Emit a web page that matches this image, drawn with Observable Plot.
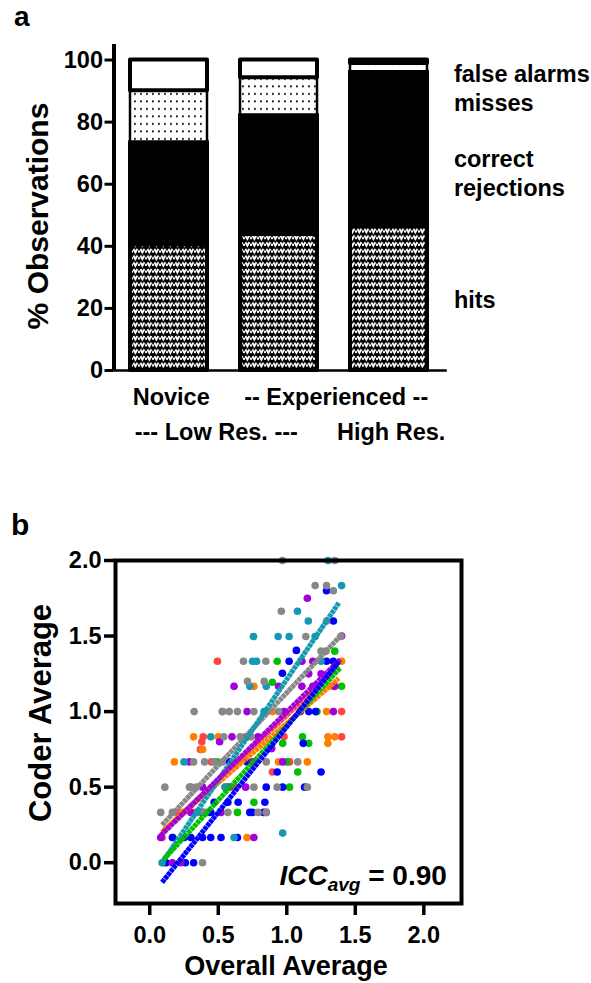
<!DOCTYPE html>
<html>
<head>
<meta charset="utf-8">
<script src="https://cdn.jsdelivr.net/npm/d3@7"></script>
<script src="https://cdn.jsdelivr.net/npm/@observablehq/plot@0.6"></script>
<style>
  body { margin: 0; background: #fff; }
  #root { position: relative; width: 591px; height: 983px; background: #fff; overflow: hidden;
          font-family: "Liberation Sans", Arial, sans-serif; font-weight: bold; color: #000; }
  .lbl { position: absolute; white-space: nowrap; line-height: 1; }
</style>
</head>
<body>
<div id="root">
  <svg width="0" height="0" style="position:absolute">
    <defs>
      <pattern id="pHits" patternUnits="userSpaceOnUse" width="7" height="6.7">
        <rect width="7" height="6.7" fill="#000"/>
        <path d="M0.4,1.0 L2.4,4.4 L4.4,1.0" fill="none" stroke="#fff" stroke-width="2"/>
        <rect x="5" y="2.5" width="2" height="2.2" fill="#fff"/>
      </pattern>
      <pattern id="pMiss" patternUnits="userSpaceOnUse" width="6" height="7.5">
        <rect width="6" height="7.5" fill="#fff"/>
        <rect x="2" y="3" width="1.8" height="1.8" fill="#000"/>
      </pattern>
    </defs>
  </svg>
  <div id="pa" style="position:absolute;left:0;top:0"></div>
  <div id="pb" style="position:absolute;left:0;top:470px"></div>
  <div class="lbl" style="left:14px;top:3px;font-size:28px">a</div>
  <div class="lbl" style="left:11px;top:510px;font-size:30px">b</div>
  <div class="lbl" style="left:38px;top:216px;font-size:30px;transform:translate(-50%,-50%) rotate(-90deg)">% Observations</div>
  <div class="lbl" style="left:40px;top:713px;font-size:31px;transform:translate(-50%,-50%) rotate(-90deg)">Coder Average</div>
  <div class="lbl" style="left:286px;top:966px;font-size:27px;transform:translate(-50%,-50%)">Overall Average</div>
</div>
<script>
// ---------- Panel a data ----------
const groups = ["Novice", "Experienced", "High Res."];
const hits = [40.5, 43.8, 46.5];
const correctRejections = [33.1, 38.5, 49.7];
const misses = [16.5, 12.0, 2.7];
const falseAlarms = [9.9, 5.7, 1.1];
const outcomeNames = ["hits", "correct rejections", "misses", "false alarms"];
const rightLabels = ["false alarms", "misses", "correct\nrejections", "hits"];
const xLabelsRow1 = ["Novice", "-- Experienced --"];
const xLabelsRow2 = ["--- Low Res. ---", "High Res."];
const yTicksA = [0, 20, 40, 60, 80, 100];

// ---------- Panel b data (Overall Average, Coder Average) ----------
const coderNames = ["C1", "C2", "C3", "C4", "C5", "C6", "C7"];
const coderColors = ["#ff4444", "#ff8000", "#00c000", "#0000ff", "#a000dc", "#1399b2", "#888888"];
const ptsC1 = [[0.494,1.333],[0.53,1.0],[0.39,0.833],[0.38,0.80],[0.37,0.75],[0.76,0.667],[0.895,0.60],[0.98,0.833],[1.02,0.667],[1.40,1.0],[1.40,0.833],[0.45,0.667],[0.62,0.5],[0.70,0.833],[0.85,1.0],[0.20,0.333],[0.09,0.167],[0.30,0.5]];
const ptsC2 = [[0.32,0.833],[0.385,0.75],[0.18,0.667],[0.65,0.667],[0.71,0.167],[0.76,1.167],[0.895,1.0],[1.29,1.0],[1.30,0.833],[1.35,0.833],[1.30,0.79],[0.94,0.667],[1.15,0.667],[1.40,1.333],[0.33,0.333],[0.55,0.5],[0.71,0.833],[0.24,0.333],[0.50,0.833],[1.33,1.167]];
const ptsC3 = [[0.93,1.333],[1.35,1.40],[0.895,1.194],[1.40,1.167],[1.115,0.833],[0.97,0.79],[1.16,0.79],[1.0,0.667],[1.08,0.60],[1.02,0.5],[0.76,0.40],[0.64,0.333],[0.49,0.667],[0.17,0.167],[0.25,0.167],[0.10,0.0],[0.56,0.5],[0.42,0.333],[1.22,1.0]];
const ptsC4 = [[1.29,1.80],[1.34,1.60],[1.07,1.405],[1.017,1.333],[1.29,1.333],[1.34,1.333],[0.968,1.254],[1.16,1.0],[1.21,1.0],[1.12,0.79],[0.93,0.60],[1.25,0.60],[0.85,0.5],[0.97,0.5],[1.13,0.5],[0.84,0.40],[0.47,0.40],[0.57,0.40],[0.645,0.40],[0.58,0.667],[0.71,0.667],[0.385,0.333],[0.73,0.333],[0.75,0.333],[0.83,0.333],[0.165,0.167],[0.25,0.167],[0.30,0.167],[0.385,0.167],[0.445,0.167],[0.52,0.167],[0.64,0.167],[0.12,0.0],[0.26,0.0],[0.32,0.0],[0.445,0.333]];
const ptsC5 = [[1.15,1.75],[1.40,1.50],[1.11,1.333],[1.19,1.333],[1.16,1.25],[1.25,1.25],[0.615,1.167],[0.94,1.167],[1.11,1.167],[1.19,1.167],[1.35,1.167],[0.71,1.0],[0.98,1.0],[1.34,1.0],[1.10,1.0],[0.60,0.833],[0.71,0.833],[0.79,0.833],[0.51,0.80],[0.89,0.755],[0.29,0.667],[0.75,0.667],[0.97,0.667],[0.385,0.5],[0.58,0.5],[0.70,0.5],[0.30,0.333],[0.52,0.333],[0.85,0.333],[0.08,0.167],[0.76,0.167],[0.165,0.0],[0.226,0.0]];
const ptsC6 = [[1.30,2.0],[1.40,1.834],[1.078,1.664],[1.157,1.60],[0.757,1.497],[0.937,1.497],[1.017,1.497],[1.207,1.497],[0.75,1.333],[0.78,1.333],[1.25,1.333],[0.73,1.167],[0.85,1.167],[0.834,1.0],[0.445,0.833],[0.25,0.667],[0.97,0.196],[0.615,0.167],[0.09,0.0],[0.55,0.5],[0.35,0.333]];
const ptsC7 = [[0.968,2.0],[1.35,2.0],[1.207,1.834],[1.29,1.834],[1.34,1.80],[0.96,1.664],[1.29,1.60],[1.139,1.497],[1.394,1.497],[1.25,1.40],[1.285,1.40],[0.684,1.333],[0.847,1.333],[0.713,1.2],[0.835,1.2],[0.324,1.0],[0.53,1.0],[0.58,1.0],[0.64,1.0],[0.76,1.0],[0.94,1.0],[0.54,0.833],[0.66,0.833],[0.74,0.833],[0.32,0.667],[0.40,0.667],[0.47,0.667],[0.53,0.667],[0.63,0.667],[0.85,0.667],[1.08,0.667],[0.11,0.5],[0.29,0.5],[0.34,0.5],[0.76,0.5],[0.93,0.5],[1.15,0.5],[0.08,0.333],[0.165,0.333],[0.397,0.333],[0.57,0.333],[0.79,0.333],[0.85,0.333],[0.385,0.0]];
// regression lines: start and end per coder
const fitX0 = [0.09, 0.10, 0.10, 0.09, 0.08, 0.09, 0.09];
const fitY0 = [0.20, 0.215, 0.02, -0.13, 0.18, 0.0, 0.25];
const fitX1 = [1.38, 1.38, 1.39, 1.38, 1.39, 1.38, 1.39];
const fitY1 = [1.30, 1.22, 1.29, 1.33, 1.345, 1.72, 1.50];
const lineOrder = ["C1", "C2", "C7", "C6", "C3", "C5", "C4"];
const xTicksB = [0, 0.5, 1.0, 1.5, 2.0];
const yTicksB = [0, 0.5, 1.0, 1.5, 2.0];
const iccLabel = "ICCavg = 0.90";

// ---------- Panel a ----------
const fills = {"hits": "url(#pHits)", "correct rejections": "#000", "misses": "url(#pMiss)", "false alarms": "#fff"};
const segs = [];
groups.forEach((g, i) => {
  const vals = [hits[i], correctRejections[i], misses[i], falseAlarms[i]];
  let acc = 0;
  vals.forEach((v, k) => { segs.push({i, cat: outcomeNames[k], y1: acc, y2: acc + v}); acc += v; });
});
const fontFam = "'Liberation Sans', Arial, sans-serif";
const plotA = Plot.plot({
  width: 591, height: 470,
  marginLeft: 113.5, marginRight: 147.5, marginTop: 44, marginBottom: 100,
  x: {domain: [-0.5, 2.5], axis: null},
  y: {domain: [0, 105], axis: null},
  style: {fontFamily: fontFam, fontWeight: "bold", fontSize: "23px", color: "#000", background: "#fff", overflow: "visible"},
  marks: [
    ...outcomeNames.map(c => Plot.rect(segs.filter(d => d.cat === c), {
      x1: d => d.i - 0.35, x2: d => d.i + 0.35, y1: "y1", y2: "y2",
      fill: fills[c], stroke: "#000", strokeWidth: c === "misses" ? 2.5 : 4, strokeLinejoin: "round"
    })),
    Plot.ruleX([-0.5], {y1: 0, y2: 105, strokeWidth: 4}),
    Plot.ruleY([0], {x1: -0.5, x2: 2.53, strokeWidth: 2.5}),
    Plot.axisY({ticks: yTicksA, tickSize: 9, tickPadding: 2, strokeWidth: 3, fontSize: 23.5, fontWeight: "bold", label: null}),
    Plot.text(xLabelsRow1, {x: [0.02, 1.52], y: [0, 0], dy: 27, fontSize: 23.5, fontWeight: "bold"}),
    Plot.text(xLabelsRow2, {x: [0.43, 2.02], y: [0, 0], dy: 62, fontSize: 23.5, fontWeight: "bold"}),
    Plot.text(rightLabels, {x: [2.59, 2.59, 2.59, 2.59], y: [96, 86.5, 64, 23], textAnchor: "start", fontSize: 23.5, fontWeight: "bold", lineHeight: 1.25})
  ]
});
document.getElementById("pa").appendChild(plotA);

// ---------- Panel b ----------
const ptsByCoder = {C1: ptsC1, C2: ptsC2, C3: ptsC3, C4: ptsC4, C5: ptsC5, C6: ptsC6, C7: ptsC7};
const points = coderNames.flatMap(c => ptsByCoder[c].map(([x, y]) => ({coder: c, x, y})));
const fits = lineOrder.map(c => {
  const k = coderNames.indexOf(c);
  return {coder: c, x1: fitX0[k], y1: fitY0[k], x2: fitX1[k], y2: fitY1[k]};
});
const plotB = Plot.plot({
  width: 591, height: 513,
  marginLeft: 115, marginRight: 130, marginTop: 90, marginBottom: 80,
  x: {domain: [-0.25, 2.275]},
  y: {domain: [-0.27, 2.0]},
  color: {type: "ordinal", domain: coderNames, range: coderColors},
  style: {fontFamily: fontFam, fontWeight: "bold", fontSize: "23px", color: "#000", background: "#fff", overflow: "visible"},
  marks: [
    Plot.dot(points, {x: "x", y: "y", r: 3.8, fill: "coder", stroke: null}),
    Plot.link(fits, {x1: "x1", y1: "y1", x2: "x2", y2: "y2", stroke: "coder", strokeWidth: 5, strokeDasharray: "4,0.5"}),
    Plot.frame({strokeWidth: 4}),
    Plot.axisX({ticks: xTicksB, tickFormat: d3.format(".1f"), tickSize: 12, tickPadding: 11, strokeWidth: 3.5, fontSize: 23.5, fontWeight: "bold", label: null}),
    Plot.axisY({ticks: yTicksB, tickFormat: d3.format(".1f"), tickSize: 11, tickPadding: 3, strokeWidth: 3.5, fontSize: 23.5, fontWeight: "bold", label: null}),
    Plot.text([iccLabel], {x: 2.168, y: -0.085, textAnchor: "end", fontSize: 28, fontWeight: "bold"})
  ]
});
document.getElementById("pb").appendChild(plotB);

// Rich formatting for ICC label (italic ICC with subscript avg)
d3.select(plotB).selectAll("text").filter(function() { return this.textContent === iccLabel; }).each(function() {
  const t = d3.select(this);
  t.text(null);
  t.append("tspan").attr("font-style", "italic").text("ICC");
  t.append("tspan").attr("font-style", "italic").attr("font-size", "19px").attr("dy", "6").text("avg");
  t.append("tspan").attr("dy", "-6").text(" = 0.90");
});
</script>
</body>
</html>
